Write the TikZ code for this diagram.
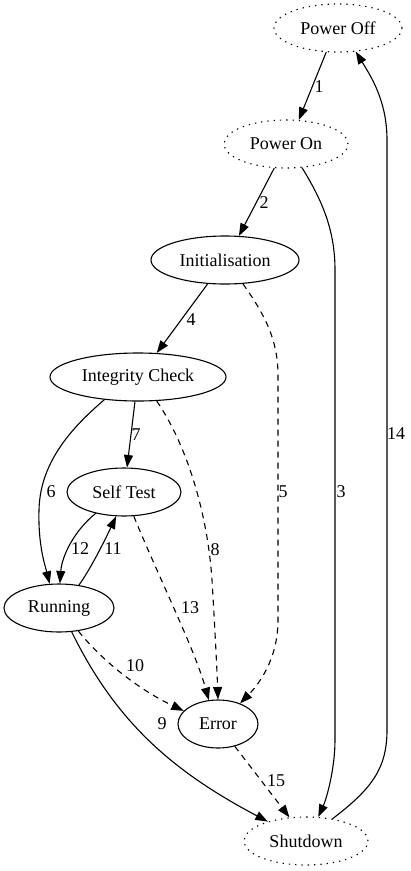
\documentclass[tikz,border=0pt]{standalone}
\usepackage{fontspec}
\setmainfont{Liberation Serif}
\usetikzlibrary{shapes.geometric,arrows.meta}
\begin{document}
\begin{tikzpicture}[x=1pt,y=-1pt,
  state/.style={ellipse,draw,line width=1.1pt,inner sep=0pt,font=\fontsize{18}{21}\selectfont},
  dotstate/.style={state,dash pattern=on 1.3pt off 5pt},
  lbl/.style={inner sep=0pt,font=\fontsize{18}{21}\selectfont},
  edge/.style={line width=1.1pt,-{Triangle[length=12.5pt,width=9pt]}},
  dedge/.style={edge,dash pattern=on 6pt off 5pt}]
\useasboundingbox (0,0) rectangle (411,871);
\node[dotstate,minimum width=128pt,minimum height=48pt] (off) at (338,28) {Power Off};
\node[dotstate,minimum width=124pt,minimum height=48pt] (on) at (286,144) {Power On};
\node[state,minimum width=148pt,minimum height=48pt] (init) at (225,260) {Initialisation};
\node[state,minimum width=176pt,minimum height=48pt] (ic) at (138,377) {Integrity Check};
\node[state,minimum width=114pt,minimum height=48pt] (st) at (124,492) {Self Test};
\node[state,minimum width=110pt,minimum height=48pt] (run) at (59,608) {Running};
\node[state,minimum width=80pt,minimum height=48pt] (err) at (218,724) {Error};
\node[dotstate,minimum width=124pt,minimum height=48pt] (sd) at (306,841) {Shutdown};
% edges
\draw[edge] (off.-116) -- (on.62);
\draw[edge] (on.-116) -- (init.60);
\draw[edge] (on.-56) .. controls (322,200) and (335,230) .. (335,270) -- (335,740) .. controls (335,770) and (326,800) .. (sd.63);
\draw[edge] (init.-126) -- (ic.52);
\draw[dedge] (init.-53) .. controls (265,315) and (278,340) .. (278,375) -- (278,620) .. controls (278,660) and (258,685) .. (err.43);
\draw[edge] (ic.-146) .. controls (75,425) and (40,460) .. (39,510) .. controls (38,545) and (45,565) .. (run.111);
\draw[edge] (ic.-97) -- (st.83);
\draw[dedge] (ic.-52) .. controls (190,450) and (208,520) .. (212,580) .. controls (215,630) and (217,670) .. (err.90);
\draw[edge] (run.-62) .. controls (115,720) and (170,770) .. (sd.153);
\draw[dedge] (run.-50) .. controls (110,670) and (150,695) .. (err.159);
\draw[edge] (run.49) .. controls (90,570) and (105,540) .. (st.-108);
\draw[edge] (st.-143) .. controls (75,530) and (62,555) .. (run.88);
\draw[dedge] (st.-68) .. controls (160,580) and (195,650) .. (err.111);
\draw[edge] (sd.40) .. controls (370,790) and (387,770) .. (387,730) -- (387,140) .. controls (387,100) and (370,75) .. (off.-53);
\draw[dedge] (err.-53) -- (sd.125);
% labels
\node[lbl] (l1) at (319,87) {1};
\node[lbl] (l2) at (264,203) {2};
\node[lbl] (l3) at (341,492) {3};
\node[lbl] (l4) at (191,320) {4};
\node[lbl] (l5) at (283,492) {5};
\node[lbl] (l6) at (51,492) {6};
\node[lbl] (l7) at (136,435) {7};
\node[lbl] (l8) at (215,550) {8};
\node[lbl] (l9) at (162,724) {9};
\node[lbl] (l10) at (135,666) {10};
\node[lbl] (l11) at (113,549) {11};
\node[lbl] (l12) at (80,549) {12};
\node[lbl] (l13) at (190,608) {13};
\node[lbl] (l14) at (396,434) {14};
\node[lbl] (l15) at (276,781) {15};
\end{tikzpicture}
\end{document}
